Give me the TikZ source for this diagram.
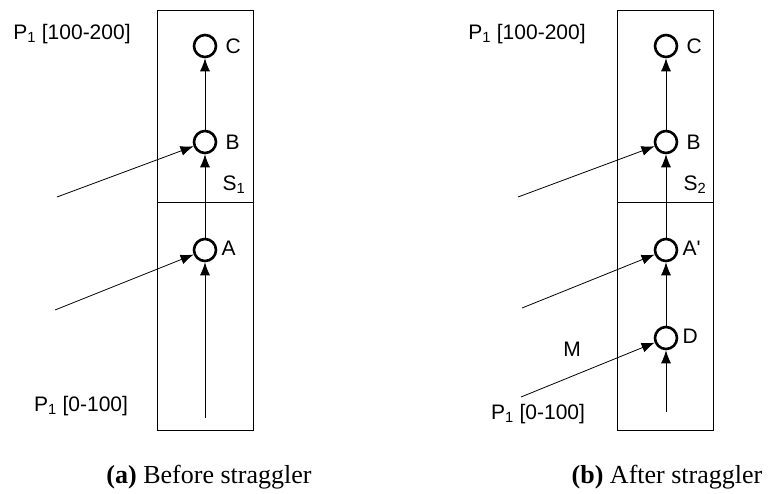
\documentclass[tikz,border=0pt]{standalone}
\usepackage{fontspec}
\setmainfont{Liberation Serif}
\newfontfamily\labfont{Liberation Sans}
\usetikzlibrary{arrows.meta,positioning}

\begin{document}
\begin{tikzpicture}[x=1pt, y=-1pt, line width=0.8pt, >={Latex[length=13pt,width=10pt]},
  op/.style={circle, draw, line width=2.6pt, minimum size=22pt, inner sep=0pt},
  lbl/.style={font=\labfont\fontsize{21}{25}\selectfont, inner sep=1pt},
  captext/.style={font=\fontsize{26}{30}\selectfont, inner sep=0pt, anchor=base}]
\useasboundingbox (0,0) rectangle (768,493);
\draw (157,10) rectangle (253,430);
\draw (157,202) -- (253,202);
\draw (617,10) rectangle (713,430);
\draw (617,202) -- (713,202);
\node[op] (c1) at (205,46) {};
\node[op] (b1) at (205,142) {};
\node[op] (a1) at (205,250) {};
\node[lbl, right=7pt of c1] (lc1) {C};
\node[lbl, right=7pt of b1] (lb1) {B};
\node[lbl, right=3pt of a1, yshift=2pt] (la1) {A};
\node[lbl] (s1) at (234,185) {S\textsubscript{1}};
\node[lbl] (hi1) at (72,34) {P\textsubscript{1} [100-200]};
\node[lbl] (lo1) at (81,406) {P\textsubscript{1} [0-100]};
\coordinate (src1) at (205,418);
\coordinate (inb1) at (57,197);
\coordinate (ina1) at (55,310);
\draw[->] (src1) -- (a1);
\draw[->] (a1) -- (b1);
\draw[->] (b1) -- (c1);
\draw[->] (inb1) -- (b1);
\draw[->] (ina1) -- (a1);
\node[op] (c2) at (666,46) {};
\node[op] (b2) at (666,142) {};
\node[op] (a2) at (666,250) {};
\node[op] (d2) at (666,338) {};
\node[lbl, right=7pt of c2] (lc2) {C};
\node[lbl, right=7pt of b2] (lb2) {B};
\node[lbl, right=3pt of a2, yshift=2pt] (la2) {A'};
\node[lbl, right=3pt of d2, yshift=2pt] (ld2) {D};
\node[lbl] (s2) at (695,185) {S\textsubscript{2}};
\node[lbl] (m2) at (572,349) {M};
\node[lbl] (hi2) at (527,34) {P\textsubscript{1} [100-200]};
\node[lbl] (lo2) at (538,414) {P\textsubscript{1} [0-100]};
\coordinate (src2) at (666,412);
\coordinate (inb2) at (518,197);
\coordinate (ina2) at (522,308);
\coordinate (ind2) at (521,397);
\draw[->] (src2) -- (d2);
\draw[->] (d2) -- (a2);
\draw[->] (a2) -- (b2);
\draw[->] (b2) -- (c2);
\draw[->] (inb2) -- (b2);
\draw[->] (ina2) -- (a2);
\draw[->] (ind2) -- (d2);
\node[captext] (capa) at (209,483) {\textbf{(a)} Before straggler};
\node[captext] (capb) at (667,483) {\textbf{(b)} After straggler};
\end{tikzpicture}
\end{document}
